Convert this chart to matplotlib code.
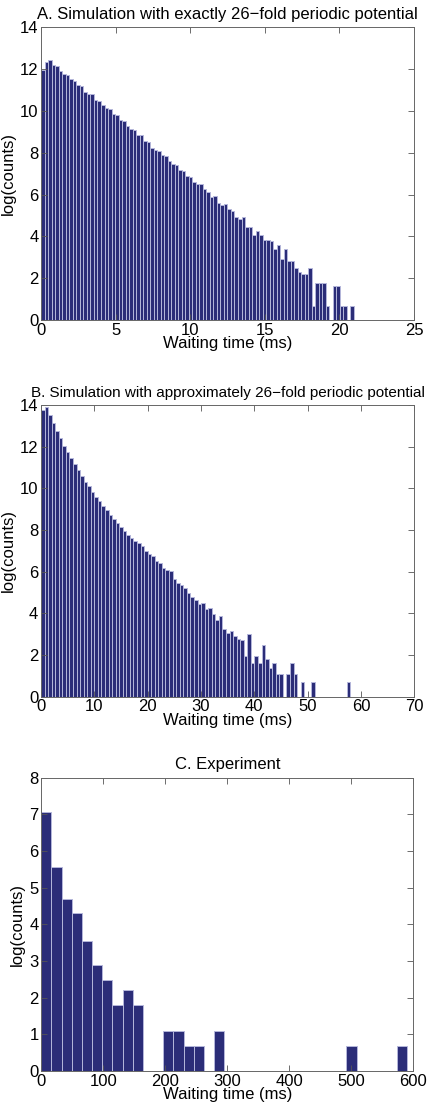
import matplotlib
matplotlib.use('Agg')
import matplotlib.pyplot as plt
import numpy as np

plt.rcParams['font.family'] = ['Liberation Sans', 'DejaVu Sans']

# ---------------- data (log of counts per waiting-time bin) ----------------
a_log_counts = [11.96, 12.34, 12.42, 12.20, 12.17, 11.93, 11.79, 11.74, 11.55, 11.45,
                11.23, 11.20, 10.92, 10.81, 10.79, 10.53, 10.49, 10.27, 10.13, 10.08,
                9.86, 9.79, 9.55, 9.52, 9.28, 9.14, 9.11, 8.87,
                8.84, 8.54, 8.51, 8.25, 8.14, 8.10, 7.89, 7.86, 7.62, 7.44,
                7.39, 7.19, 7.14, 6.88, 6.82, 6.60, 6.52, 6.50, 6.25, 6.14,
                5.86, 5.91, 5.59, 5.48, 5.53, 5.32, 5.20, 4.94, 4.83,
                4.91, 4.46, 4.43, 4.06, 4.24, 4.05, 3.84, 3.81, 3.78, 3.38,
                3.60, 2.92, 3.41, 2.80, 2.80, 2.47, 2.28, 2.18, 2.18, 2.47,
                0.69, 1.79, 1.79, 1.79, 0.69, 0.0, 1.61, 1.61, 0.69, 0.69,
                0.0, 0.69]
a_bin_width = 0.2356  # ms

b_log_counts = [13.78, 13.89, 13.52, 13.12, 12.75, 12.40, 12.05, 11.73, 11.44, 11.15,
                10.86, 10.59, 10.32, 10.10, 9.84, 9.58, 9.38, 9.15, 8.96, 8.70,
                8.54, 8.34, 8.14, 7.97, 7.76, 7.60, 7.48, 7.36, 7.23,
                7.01, 6.85, 6.74, 6.51, 6.40, 6.18, 6.08, 6.02, 5.65, 5.47,
                5.38, 5.23, 4.96, 4.80, 4.62, 4.45,
                4.48, 4.19, 4.24, 3.97, 3.66, 3.87, 3.23, 3.07, 3.15, 2.91,
                2.77, 2.72, 1.95, 3.01, 1.61, 1.95, 1.61, 2.48, 1.79, 1.39,
                1.61, 1.10, 1.10, 0.0, 1.10, 1.61, 1.10, 0.0, 0.69, 0.0,
                0.0, 0.69,
                0.0, 0.0, 0.0, 0.0, 0.0, 0.0, 0.0, 0.0, 0.0,
                0.69]
b_bin_width = 0.667  # ms

c_log_counts = [7.07, 5.56, 4.68, 4.30, 3.54, 2.89, 2.48, 1.79, 2.20, 1.79,
                0.0, 0.0, 1.10, 1.10, 0.69, 0.69, 0.0, 1.10, 0.0, 0.0,
                0.0, 0.0, 0.0, 0.0, 0.0, 0.0, 0.0, 0.0, 0.0, 0.0,
                0.69, 0.0, 0.0, 0.0, 0.0, 0.69]
c_bin_width = 16.4  # ms

titles = ["A. Simulation with exactly 26\u2212fold periodic potential",
          "B. Simulation with approximately 26\u2212fold periodic potential",
          "C. Experiment"]
title_sizes = [12, 11, 12]
x_limits = [(0, 25), (0, 70), (0, 600)]
x_ticks = [np.arange(0, 26, 5), np.arange(0, 71, 10), np.arange(0, 601, 100)]
y_limits = [(0, 14), (0, 14), (0, 8)]
y_ticks = [np.arange(0, 15, 2), np.arange(0, 15, 2), np.arange(0, 9, 1)]
xlabel = "Waiting time (ms)"
ylabel = "log(counts)"

face = '#2b2d78'
edge = '#b4b7da'
fs = 12

# ---------------- figure ----------------
W, H = 430, 1110
fig = plt.figure(figsize=(W / 100, H / 100), dpi=100)

# axes boxes in pixels: left, top, right, bottom
boxes = [(41.3, 27.3, 414.0, 320.0),
         (41.0, 405.0, 414.3, 696.7),
         (41.3, 777.7, 413.3, 1071.0)]

series = [(a_log_counts, a_bin_width), (b_log_counts, b_bin_width), (c_log_counts, c_bin_width)]

for i, (l, t, r, b) in enumerate(boxes):
    ax = fig.add_axes([l / W, 1 - b / H, (r - l) / W, (b - t) / H])
    vals, bw = series[i]
    centers = (np.arange(len(vals)) + 0.5) * bw
    ax.bar(centers, vals, width=bw, color=face, edgecolor=edge, linewidth=0.7,
           align='center', zorder=1)
    ax.set_xlim(*x_limits[i])
    ax.set_ylim(*y_limits[i])
    ax.set_xticks(x_ticks[i])
    ax.set_yticks(y_ticks[i])
    ax.tick_params(direction='in', length=4, width=0.6, top=True, right=True,
                   labelsize=fs, colors='#555555', labelcolor='black', pad=2)
    for s in ax.spines.values():
        s.set_color('#666666')
        s.set_linewidth(0.7)
        s.set_zorder(3)
    ax.set_title(titles[i], fontsize=title_sizes[i], pad=6)
    ax.set_xlabel(xlabel, fontsize=fs, labelpad=-1)
    ax.set_ylabel(ylabel, fontsize=fs, labelpad=3)

fig.savefig('out.png', dpi=100)
